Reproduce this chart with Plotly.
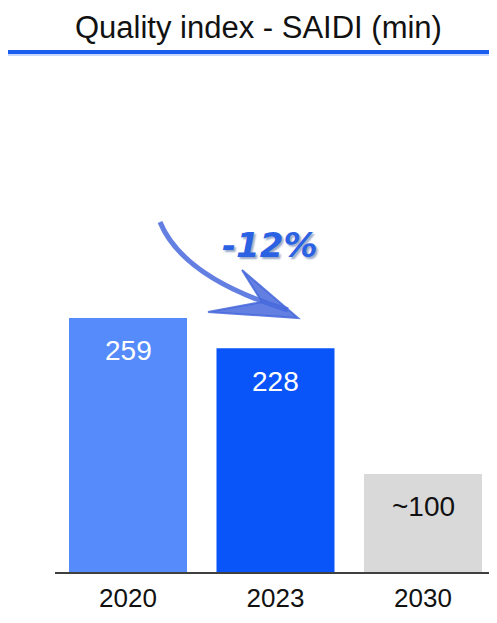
import plotly.graph_objects as go

# Data
years = ["2020", "2023", "2030"]
saidi = [259, 228, 100]
value_labels = ["259", "228", "~100"]
bar_colors = ["#558BFA", "#0A55FA", "#D9D9D9"]
label_colors = ["white", "white", "#111111"]
change_label = "-12%"

# page body has an 8px margin, so the figure is drawn 8px smaller and offset by 8
OFF = 8
W, H = 497 - 2 * OFF, 623 - 2 * OFF
ML, MR, MT, MB = 55 - OFF, 0, 100 - OFF, 51 - OFF
PW, PH = W - ML - MR, H - MT - MB


def px(x):
    # reference pixel x -> paper x
    return (x - OFF - ML) / PW


def py(y):
    # reference pixel y -> paper y
    return (H - MB - (y - OFF)) / PH


pos = list(range(len(years)))
slot = 147.5  # px per category
x_lo = -(128 - 55) / slot
x_hi = x_lo + PW / slot

fig = go.Figure(
    go.Bar(
        x=pos,
        y=saidi,
        width=[0.8] * len(years),
        marker=dict(color=bar_colors, line=dict(width=0)),
        hovertext=years,
        hoverinfo="text+y",
    )
)

# value labels inside bars near the top
for p, v, lab, c in zip(pos, saidi, value_labels, label_colors):
    fig.add_annotation(
        x=p, y=v, text=lab, showarrow=False, yshift=-33,
        xanchor="center", yanchor="middle",
        font=dict(size=28, color=c, family="Liberation Sans, Arial"),
    )

# title and blue rule under it
fig.add_annotation(
    xref="paper", yref="paper", x=px(258), y=py(27), text="Quality index - SAIDI (min)",
    showarrow=False, xanchor="center", yanchor="middle",
    font=dict(size=31, color="#111111", family="Liberation Sans, Arial"),
)
fig.add_shape(type="line", xref="paper", yref="paper",
              x0=px(8), x1=px(497), y0=py(55), y1=py(55),
              line=dict(color="#C8D8FA", width=2))
fig.add_shape(type="line", xref="paper", yref="paper",
              x0=px(8), x1=px(497), y0=py(52), y1=py(52),
              line=dict(color="#1A5EF0", width=4))

# hand-drawn style arrow
arrow_col = "rgba(70,105,220,0.85)"
shaft = "M {},{} Q {},{} {},{}".format(px(160), py(222), px(183), py(278), px(288), py(310))
fig.add_shape(type="path", xref="paper", yref="paper", path=shaft,
              line=dict(color=arrow_col, width=5))
head = "M {},{} L {},{} L {},{} L {},{} Z".format(
    px(298), py(318), px(242), py(270), px(262), py(302), px(208), py(312))
fig.add_shape(type="path", xref="paper", yref="paper", path=head,
              fillcolor=arrow_col, line=dict(color=arrow_col, width=2))

fig.add_annotation(
    xref="paper", yref="paper", x=px(270), y=py(245), text="<b><i>" + change_label + "</i></b>",
    showarrow=False, xanchor="center", yanchor="middle",
    font=dict(size=34, color="#2B62E3", family="DejaVu Sans",
              shadow="2px 2px 2px #9AA8C8"),
)

fig.update_layout(
    width=W, height=H,
    margin=dict(l=ML, r=MR, t=MT, b=MB, autoexpand=False),
    plot_bgcolor="white", paper_bgcolor="white",
    showlegend=False,
    xaxis=dict(
        range=[x_lo, x_hi], tickvals=pos, ticktext=years,
        showline=True, linecolor="#404040", linewidth=1.5, showgrid=False, zeroline=False,
        ticks="outside", ticklen=2, tickcolor="rgba(0,0,0,0)",
        tickfont=dict(size=26, color="#111111", family="Liberation Sans, Arial"),
    ),
    yaxis=dict(range=[0, PH / 0.981], visible=False, showgrid=False),
)

fig.write_html("out.html")
